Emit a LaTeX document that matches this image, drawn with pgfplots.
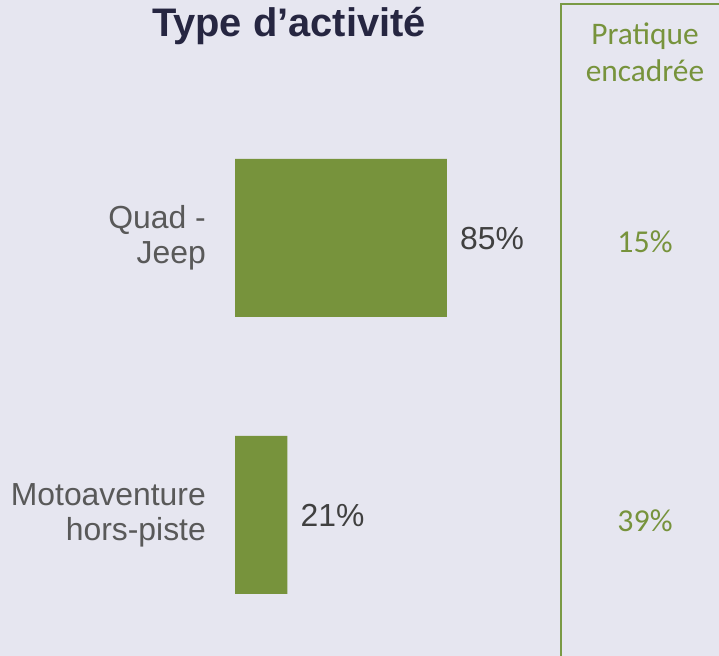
\documentclass[border=0pt]{standalone}
\usepackage{fontspec}
\setmainfont{Liberation Sans}
\newfontfamily\calib{Carlito}
\usepackage{pgfplots}
\pgfplotsset{compat=1.18}
\definecolor{bgcol}{HTML}{E6E6F0}
\definecolor{barcol}{HTML}{77933C}
\definecolor{linecol}{HTML}{7A9A45}
\definecolor{titlecol}{HTML}{262641}
\definecolor{labcol}{HTML}{595959}
\definecolor{valcol}{HTML}{404040}
\begin{document}
\begin{tikzpicture}[x=1bp,y=1bp]
\fill[bgcol] (0,0) rectangle (719,656);
\useasboundingbox (0,0) rectangle (719,656);
% title
\node[anchor=base, font=\bfseries\fontsize{40}{46}\selectfont, text=titlecol, inner sep=0] at (289,619) {Type d’activité};
% right panel border
\draw[linecol, line width=2.7bp] (561,0) -- (561,652) -- (720,652);
\node[align=center, anchor=base, font=\calib\fontsize{31.5}{37}\selectfont, text=barcol, inner sep=0] at (645,611) {Pratique};
\node[align=center, anchor=base, font=\calib\fontsize{31.5}{37}\selectfont, text=barcol, inner sep=0] at (645,574) {encadrée};
\begin{axis}[
  at={(235bp,2.5bp)}, anchor=south west,
  x=2.494bp, y=277bp,
  xmin=0, xmax=120, ymin=-0.5, ymax=1.5,
  hide axis, clip=false,
  xbar, bar width=158bp, bar shift=0pt,
  point meta=x,
  nodes near coords={\pgfmathprintnumber[assume math mode=true]{\pgfplotspointmeta}\%},
  nodes near coords style={anchor=base west, inner sep=0, xshift=13bp, yshift=-12bp,
    font=\fontsize{32}{35}\selectfont, text=valcol},
]
\addplot[fill=barcol, draw=none] coordinates {(85,1) (21,0)};
% category labels
\node[anchor=east, align=right, inner sep=0, xshift=-29bp, font=\fontsize{32}{35}\selectfont, text=labcol] at (axis cs:0,1) {Quad -\\Jeep};
\node[anchor=east, align=right, inner sep=0, xshift=-29bp, font=\fontsize{32}{35}\selectfont, text=labcol] at (axis cs:0,0) {Motoaventure\\hors-piste};
% right panel values
\node[anchor=base, inner sep=0, yshift=-15bp, font=\calib\fontsize{32}{36}\selectfont, text=barcol] at (axis cs:164.4,1) {15\%};
\node[anchor=base, inner sep=0, yshift=-17bp, font=\calib\fontsize{32}{36}\selectfont, text=barcol] at (axis cs:164.4,0) {39\%};
\end{axis}
\end{tikzpicture}
\end{document}
